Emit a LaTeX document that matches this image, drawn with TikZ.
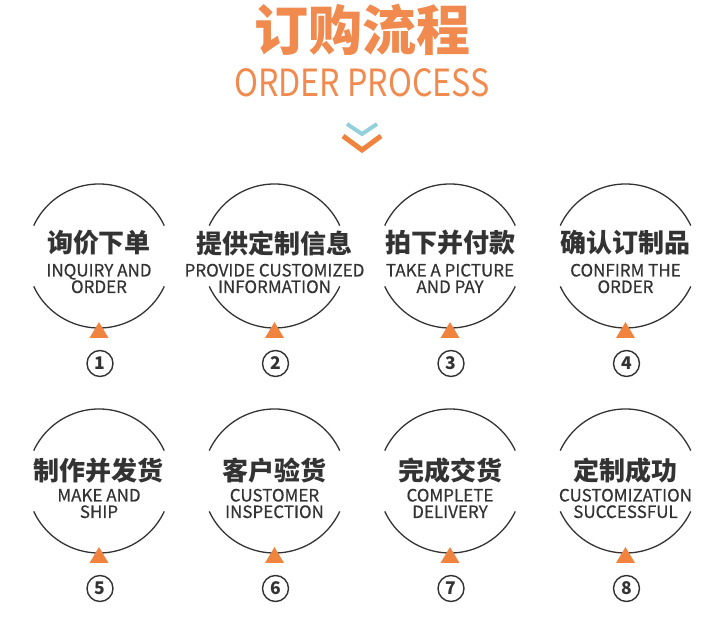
\documentclass[tikz,border=0pt]{standalone}
\usepackage{fontspec}
\setmainfont{Noto Sans CJK SC}
\newfontfamily\narrowfont{Noto Sans CJK SC}[FakeStretch=0.86]
\newfontfamily\enfont{Noto Sans CJK SC}[FakeBold=0.5]
\definecolor{orangeT}{HTML}{F08A4E}
\definecolor{orangeK}{HTML}{F0843E}
\definecolor{cyanK}{HTML}{92D0DA}
\definecolor{darkT}{HTML}{333333}
\begin{document}
\begin{tikzpicture}[x=1pt,y=1pt,
  ring/.style={draw=darkT, line width=1.3pt},
  zhlabel/.style={font=\fontsize{26}{26}\selectfont\bfseries, text=darkT, inner sep=0pt},
  enlabel/.style={font=\enfont\fontsize{17}{17}\selectfont, text=darkT, inner sep=0pt, anchor=base},
  numlabel/.style={circle, draw=darkT, line width=1.4pt, minimum size=26pt, inner sep=0pt,
    font=\fontsize{17.5}{17.5}\selectfont\bfseries, text=darkT},
  marker/.style={fill=orangeK}
]
\useasboundingbox (0,0) rectangle (724,630);
\node[font=\fontsize{54}{54}\selectfont\bfseries, text=orangeT, inner sep=0pt] (title) at (362,600) {订购流程};
\node[font=\narrowfont\fontsize{37.5}{37.5}\selectfont, text=orangeT, inner sep=0pt, anchor=base] (subtitle) at (362,533) {ORDER PROCESS};
\coordinate (bl) at (347,506); \coordinate (bm) at (362,496); \coordinate (br) at (377,506);
\coordinate (ol) at (343,494); \coordinate (om) at (362,480); \coordinate (or) at (381,494);
\draw[cyanK, line width=4pt] (bl) -- (bm) -- (br);
\draw[orangeK, line width=5pt] (ol) -- (om) -- (or);
\foreach \i/\cx/\cy/\zy/\zt/\ea/\eb in {
  1/99/374/387/询价下单/INQUIRY AND/ORDER,
  2/274.5/374/387/提供定制信息/PROVIDE CUSTOMIZED/INFORMATION,
  3/450/374/387/拍下并付款/TAKE A PICTURE/AND PAY,
  4/625.5/374/387/确认订制品/CONFIRM THE/ORDER,
  5/99/149/159/制作并发货/MAKE AND/SHIP,
  6/274.5/149/159/客户验货/CUSTOMER/INSPECTION,
  7/450/149/159/完成交货/COMPLETE/DELIVERY,
  8/625.5/149/159/定制成功/CUSTOMIZATION/SUCCESSFUL}{
  \coordinate (c\i) at (\cx,\cy);
  \draw[ring] (c\i) ++(25:72) arc[start angle=25, end angle=155, radius=72];
  \draw[ring] (c\i) ++(205:72) arc[start angle=205, end angle=335, radius=72];
  \node[zhlabel] (z\i) at (\cx,\zy) {\zt};
  \node[enlabel] (ea\i) at (\cx,\cy-20.5) {\ea};
  \node[enlabel] (eb\i) at (\cx,\cy-37) {\eb};
  \fill[marker] (\cx-9.5,\cy-82) -- (\cx+9.5,\cy-82) -- (\cx,\cy-66) -- cycle;
  \node[numlabel] (n\i) at (\cx+1,\cy-107.5) {\i};
}
\end{tikzpicture}
\end{document}
